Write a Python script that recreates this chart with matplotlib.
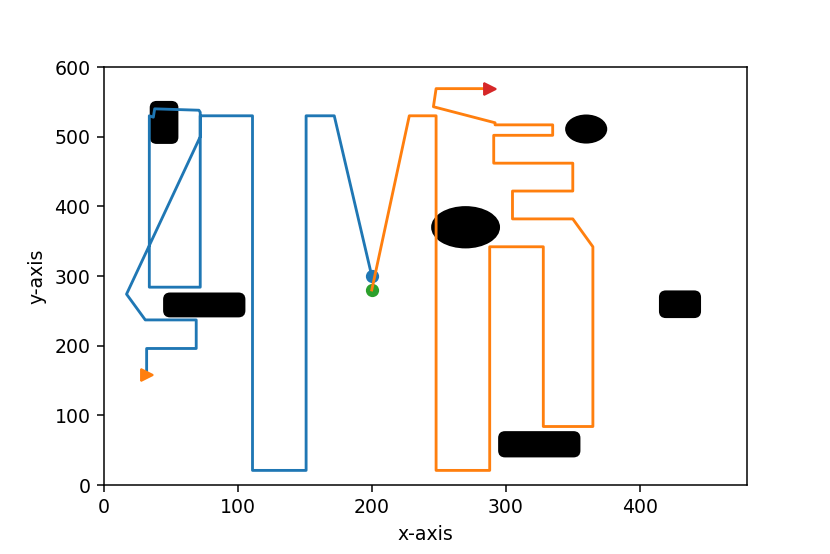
import matplotlib
matplotlib.use('Agg')
import matplotlib.pyplot as plt
from matplotlib.patches import FancyBboxPatch, Ellipse

# Robot 1 yolu (mavi)
blue_x = [200, 172, 151, 151, 111, 111, 72, 72, 34, 34, 37, 38, 71, 72, 72, 17, 31, 69, 69, 32, 32]
blue_y = [300, 530, 530, 21, 21, 530, 530, 284, 284, 530, 528, 540, 538, 535, 500, 274, 237, 237, 196, 196, 158]

# Robot 2 yolu (turuncu)
orange_x = [200, 228, 248, 248, 288, 288, 328, 328, 365, 365, 350, 305, 305, 350, 350,
            291, 291, 335, 335, 292, 292, 246, 248, 288]
orange_y = [280, 530, 530, 21, 21, 342, 342, 84, 84, 342, 382, 382, 422, 422, 462,
            462, 502, 502, 517, 517, 520, 543, 569, 569]

# Engeller: (x_min, y_min, genislik, yukseklik)
rect_obstacles = [(35, 491, 20, 59), (45, 242, 60, 33), (415, 241, 30, 37), (295, 41, 60, 35)]
# Elips engeller: (merkez_x, merkez_y, genislik, yukseklik)
ellipse_obstacles = [(270, 370, 50, 58), (360, 511, 30, 39)]

dpi = 136
fig = plt.figure(figsize=(830 / dpi, 554 / dpi), dpi=dpi)
ax = fig.add_axes([0.125, 0.1245, 0.775, 0.7545])

# engelleri ciz
for x0, y0, w, h in rect_obstacles:
    ax.add_patch(FancyBboxPatch((x0, y0), w, h,
                                boxstyle='round,pad=0,rounding_size=4.5',
                                mutation_aspect=1.9, color='black'))
for cx, cy, w, h in ellipse_obstacles:
    ax.add_patch(Ellipse((cx, cy), w, h, color='black'))

# baslangic noktalari
ax.plot(blue_x[0], blue_y[0], 'o', color='C0')
ax.plot(orange_x[0], orange_y[0], 'o', color='C2')

# yollar
ax.plot(blue_x, blue_y, color='C0')
ax.plot(orange_x, orange_y, color='C1')

# bitis noktalari
ax.plot(blue_x[-1], blue_y[-1], '>', color='C1')
ax.plot(orange_x[-1], orange_y[-1], '>', color='C3')

ax.set_xlim(0, 480)
ax.set_ylim(0, 600)
ax.set_xticks([0, 100, 200, 300, 400])
ax.set_yticks([0, 100, 200, 300, 400, 500, 600])
ax.set_xlabel('x-axis')
ax.set_ylabel('y-axis')

plt.savefig('out.png', dpi=dpi)
